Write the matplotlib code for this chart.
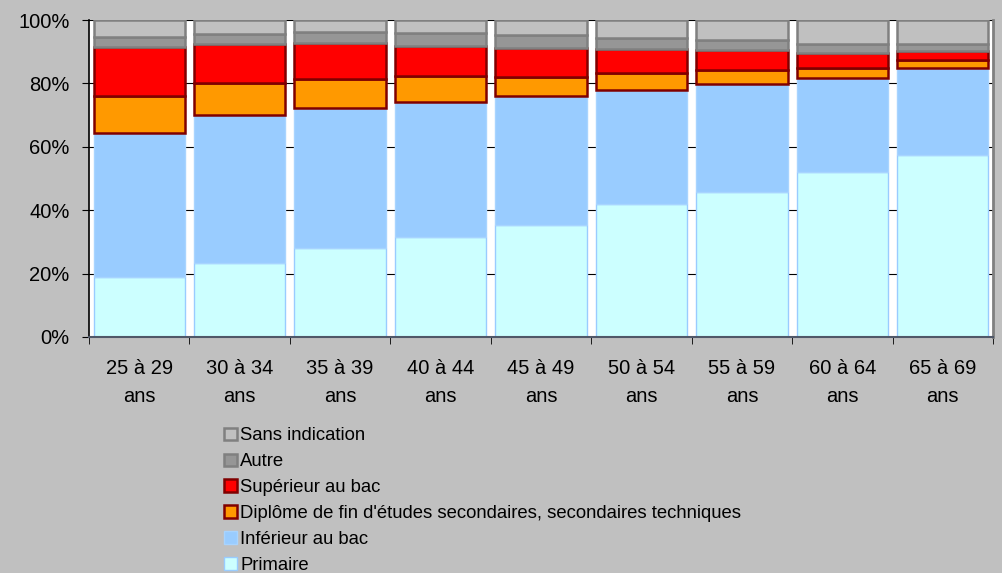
import matplotlib
matplotlib.use("Agg")
import matplotlib.pyplot as plt
from matplotlib.patches import Patch
from matplotlib.ticker import FixedLocator, PercentFormatter
import numpy as np

plt.rcParams['font.family'] = ['Liberation Sans', 'DejaVu Sans']

categories = ["25 à 29\nans", "30 à 34\nans", "35 à 39\nans", "40 à 44\nans",
              "45 à 49\nans", "50 à 54\nans", "55 à 59\nans", "60 à 64\nans",
              "65 à 69\nans"]
primaire = [18.9, 23.3, 28.1, 31.6, 35.3, 42.0, 45.6, 52.1, 57.5]
inferieur = [45.5, 46.6, 44.0, 42.4, 40.7, 35.9, 34.1, 29.6, 27.4]
diplome = [11.6, 10.1, 9.4, 8.3, 6.1, 5.4, 4.5, 3.3, 2.5]
superieur = [15.4, 12.3, 11.1, 9.6, 9.0, 7.7, 6.3, 4.5, 2.8]
autre = [3.3, 3.3, 3.5, 3.9, 4.2, 3.4, 3.1, 2.8, 2.3]
sans_indication = [5.3, 4.4, 3.9, 4.2, 4.7, 5.6, 6.4, 7.7, 7.5]

series = [
    ("Primaire", primaire, "#CCFFFF", "#99CCFF", 1.0),
    ("Inférieur au bac", inferieur, "#99CCFF", "#A8D4FF", 1.0),
    ("Diplôme de fin d'études secondaires, secondaires techniques", diplome, "#FF9900", "#800000", 1.8),
    ("Supérieur au bac", superieur, "#FF0000", "#800000", 1.8),
    ("Autre", autre, "#969696", "#808080", 1.8),
    ("Sans indication", sans_indication, "#C0C0C0", "#808080", 1.8),
]

W, H = 1002, 573
fig = plt.figure(figsize=(W / 100, H / 100), dpi=100, facecolor="#C0C0C0")
ax = fig.add_axes([89 / W, 1 - 337 / H, (993 - 89) / W, (337 - 20) / H])
ax.set_facecolor("white")

x = np.arange(len(categories))
bottom = np.zeros(len(categories))
handles = []
for name, vals, fc, ec, lw in series:
    vals = np.array(vals)
    ax.bar(x, vals, bottom=bottom, width=0.91, color=fc, edgecolor=ec,
           linewidth=lw, zorder=2)
    bottom += vals
    handles.append(Patch(facecolor=fc, edgecolor=ec, linewidth=lw, label=name))

ax.set_xlim(-0.5, len(categories) - 0.5)
ax.set_ylim(0, 100)
ax.yaxis.set_major_locator(FixedLocator([0, 20, 40, 60, 80, 100]))
ax.yaxis.set_major_formatter(PercentFormatter(decimals=0))
ax.grid(axis="y", color="black", linewidth=0.8, zorder=0)
ax.set_axisbelow(True)

ax.set_xticks(x)
ax.set_xticklabels(categories, linespacing=1.6)
ax.set_xticks(np.arange(len(categories) + 1) - 0.5, minor=True)
ax.tick_params(axis="x", which="major", length=0, pad=15.5, labelsize=14.5)
ax.tick_params(axis="x", which="minor", length=5, direction="out", color="black")
ax.tick_params(axis="y", length=5, direction="out", pad=9, labelsize=14.5)

ax.spines["top"].set_visible(False)
ax.spines["right"].set_color("#808080")
ax.spines["right"].set_linewidth(2)
ax.spines["left"].set_color("black")
ax.spines["left"].set_linewidth(1.2)
ax.spines["bottom"].set_color("#505868")
ax.spines["bottom"].set_linewidth(1.5)

leg = fig.legend(handles=handles[::-1], loc="upper left",
                 bbox_to_anchor=(224 / W, 1 - 427.5 / H), frameon=False,
                 fontsize=13.35, handlelength=0.68, handleheight=0.68,
                 handletextpad=0.2, labelspacing=0.48, borderpad=0,
                 borderaxespad=0)

fig.savefig("out.png", dpi=100, facecolor=fig.get_facecolor())
